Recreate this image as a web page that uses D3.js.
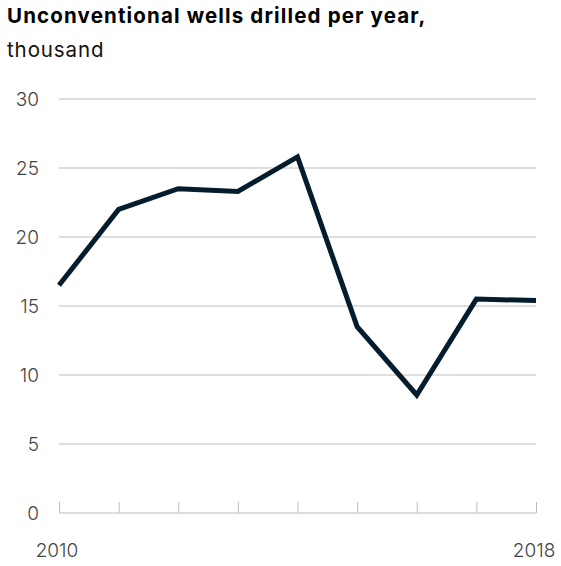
<!DOCTYPE html>
<html><head><meta charset="utf-8">
<script src="https://cdn.jsdelivr.net/npm/d3@7"></script>
<style>body{margin:0;background:#fff;}svg{display:block;}</style>
</head><body><svg id="c" width="561" height="566"></svg>
<script>
const years = [2010, 2011, 2012, 2013, 2014, 2015, 2016, 2017, 2018];
const wells = [16.5, 22.0, 23.5, 23.3, 25.8, 13.5, 8.55, 15.5, 15.4];
const yTicks = [0, 5, 10, 15, 20, 25, 30];
const xLabels = [2010, 2018];
const title = "Unconventional wells drilled per year,";
const subtitle = "thousand";

const svg = d3.select("#c");
const x = d3.scaleLinear().domain([2010, 2018]).range([59, 536]);
const y = d3.scaleLinear().domain([0, 30]).range([513, 99]);
const font = "Inter, 'Liberation Sans', sans-serif";

svg.append("text").attr("x", 7).attr("y", 23).attr("font-family", font)
  .attr("font-size", 20.5).attr("font-weight", 700).attr("letter-spacing", 1.15)
  .attr("fill", "#000").text(title);
svg.append("text").attr("x", 7).attr("y", 57).attr("font-family", font)
  .attr("font-size", 20.5).attr("font-weight", 400).attr("letter-spacing", 0.9)
  .attr("fill", "#111").text(subtitle);

// gridlines
svg.append("g").selectAll("line").data(yTicks.filter(d => d > 0)).join("line")
  .attr("x1", x(2010)).attr("x2", x(2018))
  .attr("y1", d => y(d)).attr("y2", d => y(d))
  .attr("stroke", "#bdbdbd").attr("stroke-width", 1);

// y labels
svg.append("g").selectAll("text").data(yTicks).join("text")
  .attr("x", 39).attr("y", d => y(d)).attr("dy", "0.36em")
  .attr("text-anchor", "end").attr("font-family", font).attr("font-size", 19)
  .attr("font-weight", 300).attr("fill", "#444").text(d => d);

// x axis
const xAxis = d3.axisBottom(x).tickValues(years).tickSize(12).tickFormat("");
const gx = svg.append("g").attr("transform", `translate(0,${y(0)})`).call(xAxis);
gx.select(".domain").remove();
gx.selectAll(".tick line").attr("stroke", "#bdbdbd").attr("y1", 0).attr("y2", -11);
svg.append("line").attr("x1", x(2010)).attr("x2", x(2018))
  .attr("y1", y(0)).attr("y2", y(0)).attr("stroke", "#bdbdbd").attr("stroke-width", 1);

svg.append("g").selectAll("text").data(xLabels).join("text")
  .attr("x", d => x(d) - 2).attr("y", 557).attr("text-anchor", "middle")
  .attr("font-family", font).attr("font-size", 19).attr("font-weight", 300)
  .attr("fill", "#444").text(d => d);

// line
const line = d3.line().x((d, i) => x(years[i])).y(d => y(d));
svg.append("path").datum(wells).attr("d", line).attr("fill", "none")
  .attr("stroke", "#051c2c").attr("stroke-width", 5)
  .attr("stroke-linejoin", "miter").attr("stroke-linecap", "butt");
</script></body></html>
